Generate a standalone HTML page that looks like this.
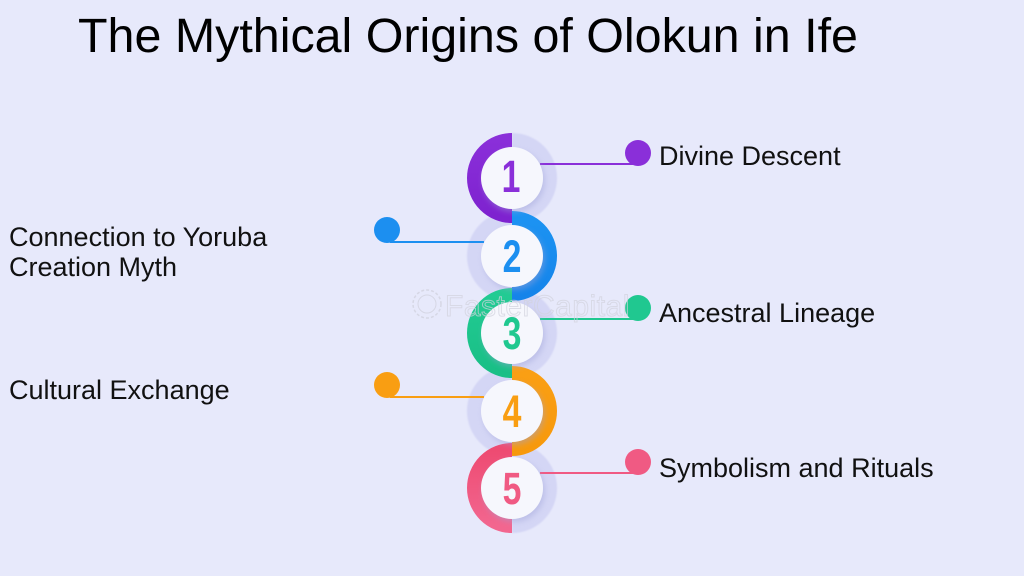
<!DOCTYPE html>
<html>
<head>
<meta charset="utf-8">
<style>
  html,body{margin:0;padding:0;}
  body{width:1024px;height:576px;overflow:hidden;background:#e7e9fb;}
  svg{display:block;}
</style>
</head>
<body>
<svg width="1024" height="576" viewBox="0 0 1024 576" xmlns="http://www.w3.org/2000/svg">
  <defs>
    <filter id="sh" x="-30%" y="-30%" width="160%" height="160%">
      <feDropShadow dx="2" dy="3" stdDeviation="3" flood-color="#9fa3d8" flood-opacity="0.45"/>
    </filter>
    <filter id="soft" x="-20%" y="-20%" width="140%" height="140%">
      <feGaussianBlur stdDeviation="0.8"/>
    </filter>
    <linearGradient id="gP" x1="0" y1="0" x2="0" y2="1"><stop offset="0" stop-color="#8a2fd9"/><stop offset="1" stop-color="#7e22cf"/></linearGradient>
    <linearGradient id="gB" x1="0" y1="0" x2="0" y2="1"><stop offset="0" stop-color="#1c93f2"/><stop offset="1" stop-color="#1584ea"/></linearGradient>
    <linearGradient id="gG" x1="0" y1="0" x2="0" y2="1"><stop offset="0" stop-color="#22cb93"/><stop offset="1" stop-color="#19bf86"/></linearGradient>
    <linearGradient id="gO" x1="0" y1="0" x2="0" y2="1"><stop offset="0" stop-color="#fa9f14"/><stop offset="1" stop-color="#f7990c"/></linearGradient>
    <linearGradient id="gK" x1="0" y1="0" x2="0" y2="1"><stop offset="0" stop-color="#ee4b72"/><stop offset="1" stop-color="#f2668f"/></linearGradient>
  </defs>

  <rect width="1024" height="576" fill="#e7e9fb"/>

  <!-- Title -->
  <text x="78" y="52" font-family="Liberation Sans, Arial, sans-serif" font-size="48.4" fill="#000">The Mythical Origins of Olokun in Ife</text>

  <!-- light halves -->
  <g fill="none" stroke="#d4d6f5" stroke-width="15" filter="url(#soft)">
    <path d="M512 140.5 A37.5 37.5 0 0 1 512 215.5"/>
    <path d="M512 218.5 A37.5 37.5 0 0 0 512 293.5"/>
    <path d="M512 295.5 A37.5 37.5 0 0 1 512 370.5"/>
    <path d="M512 373.5 A37.5 37.5 0 0 0 512 448.5"/>
    <path d="M512 450.5 A37.5 37.5 0 0 1 512 525.5"/>
  </g>

  <!-- coloured halves -->
  <g fill="none" stroke-width="15">
    <path d="M512 140.5 A37.5 37.5 0 0 0 512 215.5" stroke="url(#gP)"/>
    <path d="M512 218.5 A37.5 37.5 0 0 1 512 293.5" stroke="url(#gB)"/>
    <path d="M512 295.5 A37.5 37.5 0 0 0 512 370.5" stroke="url(#gG)"/>
    <path d="M512 373.5 A37.5 37.5 0 0 1 512 448.5" stroke="url(#gO)"/>
    <path d="M512 450.5 A37.5 37.5 0 0 0 512 525.5" stroke="url(#gK)"/>
  </g>

  <!-- connector lines -->
  <g stroke-width="2">
    <line x1="540" y1="164" x2="636" y2="164" stroke="#8a2fd9"/>
    <line x1="390" y1="242" x2="484" y2="242" stroke="#1c8ff0"/>
    <line x1="540" y1="319" x2="636" y2="319" stroke="#20c890"/>
    <line x1="390" y1="397" x2="484" y2="397" stroke="#f99e12"/>
    <line x1="540" y1="473" x2="636" y2="473" stroke="#f05a83"/>
  </g>

  <!-- dots -->
  <circle cx="638" cy="153" r="13" fill="#8a2fd9"/>
  <circle cx="387" cy="230" r="13" fill="#1c8ff0"/>
  <circle cx="638" cy="308" r="13" fill="#20c890"/>
  <circle cx="387" cy="385" r="13" fill="#f99e12"/>
  <circle cx="638" cy="462" r="13" fill="#f05a83"/>

  <!-- white circles -->
  <g fill="#f6f7fd" filter="url(#sh)">
    <circle cx="512" cy="178" r="31"/>
    <circle cx="512" cy="256" r="31"/>
    <circle cx="512" cy="333" r="31"/>
    <circle cx="512" cy="411" r="31"/>
    <circle cx="512" cy="488" r="31"/>
  </g>

  <!-- digits -->
  <g font-family="Liberation Sans Narrow, Liberation Sans, sans-serif" font-weight="bold" font-size="45" text-anchor="middle">
    <text x="511" y="192" fill="#8a2fd9" transform="translate(511 0) scale(0.75 1) translate(-511 0)">1</text>
    <text x="512" y="272" fill="#1c8ff0" transform="translate(512 0) scale(0.75 1) translate(-512 0)">2</text>
    <text x="512" y="349" fill="#20c890" transform="translate(512 0) scale(0.75 1) translate(-512 0)">3</text>
    <text x="512" y="427" fill="#f99e12" transform="translate(512 0) scale(0.75 1) translate(-512 0)">4</text>
    <text x="512" y="504" fill="#f05a83" transform="translate(512 0) scale(0.75 1) translate(-512 0)">5</text>
  </g>

  <!-- watermark -->
  <g opacity="0.7">
    <circle cx="427" cy="304" r="14" fill="none" stroke="#cfd0dc" stroke-width="1.5" stroke-dasharray="3 2"/>
    <circle cx="427" cy="304" r="9" fill="none" stroke="#cfd0dc" stroke-width="1"/>
    <text x="445" y="316" font-family="Liberation Sans, sans-serif" font-size="30" fill="none" stroke="#d2d3de" stroke-width="1" letter-spacing="0.5">FasterCapital</text>
  </g>

  <!-- labels -->
  <g font-family="Liberation Sans, Arial, sans-serif" font-size="27" fill="#111">
    <text x="659" y="165">Divine Descent</text>
    <text x="9" y="246">Connection to Yoruba</text>
    <text x="9" y="276">Creation Myth</text>
    <text x="659" y="322">Ancestral Lineage</text>
    <text x="9" y="399">Cultural Exchange</text>
    <text x="659" y="477">Symbolism and Rituals</text>
  </g>
</svg>
</body>
</html>
